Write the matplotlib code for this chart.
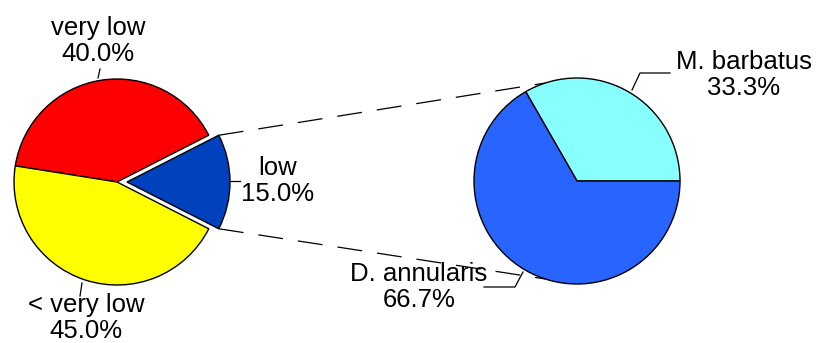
import numpy as np
import matplotlib.pyplot as plt

plt.rcParams['font.family'] = ['Liberation Sans', 'DejaVu Sans']

# main pie
main_labels = ["low", "very low", "< very low"]
main_values = [15.0, 40.0, 45.0]
main_colors = ["#0041BE", "#FF0000", "#FFFF00"]

# breakdown of the "low" slice
sub_labels = ["M. barbatus", "D. annularis"]
sub_values = [33.3, 66.7]
sub_colors = ["#88FFFF", "#2864FF"]

W, H = 817, 343
fig = plt.figure(figsize=(W / 100, H / 100), dpi=100)
ax = fig.add_axes([0, 0, 1, 1])

R = 103
c1 = (117, 161)
c2 = (577, 162)

# explode is an absolute offset here, since radius is in pixel units
w1, _ = ax.pie(main_values, colors=main_colors, startangle=-27, counterclock=True,
               explode=[10, 0, 0], radius=R, center=c1, frame=True,
               wedgeprops=dict(edgecolor='black', linewidth=1))
w2, _ = ax.pie(sub_values, colors=sub_colors, startangle=0, counterclock=True,
               radius=R, center=c2, frame=True,
               wedgeprops=dict(edgecolor='black', linewidth=1))
ax.set_xlim(0, W)
ax.set_ylim(0, H)
ax.set_aspect('equal')
ax.axis('off')

# white gap around the pulled-out wedge
low = w1[0]
ax.add_patch(plt.matplotlib.patches.Wedge(low.center, low.r, low.theta1, low.theta2,
                                          facecolor='none', edgecolor='white',
                                          linewidth=5, zorder=low.get_zorder() - 0.5))

# dashed connectors from the exploded wedge to the second pie
cx, cy = low.center
for ang1, ang2 in [(low.theta2, 108), (low.theta1, -108)]:
    x0 = cx + low.r * np.cos(np.radians(ang1))
    y0 = cy + low.r * np.sin(np.radians(ang1))
    x1 = c2[0] + R * np.cos(np.radians(ang2))
    y1 = c2[1] + R * np.sin(np.radians(ang2))
    ax.plot([x0, x1], [y0, y1], color='black', lw=0.9, dashes=(20, 12))

fs = 18.5
def lab(x, y, name, v):
    ax.text(x, y, f"{name}\n{v:.1f}%", ha='center', va='center', fontsize=fs,
            linespacing=1.15)

lab(98, 302, main_labels[1], main_values[1])
lab(278, 162, main_labels[0], main_values[0])
lab(86, 25, main_labels[2], main_values[2])
lab(744, 268, sub_labels[0], sub_values[0])
lab(419, 56, sub_labels[1], sub_values[1])

# leader lines
lk = dict(color='black', lw=0.9)
ax.plot([100, 98], [274, 265], **lk)
ax.plot([230, 240], [162, 162], **lk)
ax.plot([82, 80], [60, 47], **lk)
ax.plot([632, 640, 670], [253, 270, 270], **lk)
ax.plot([523, 515, 484], [71, 56, 56], **lk)

fig.savefig('out.png', dpi=100)
